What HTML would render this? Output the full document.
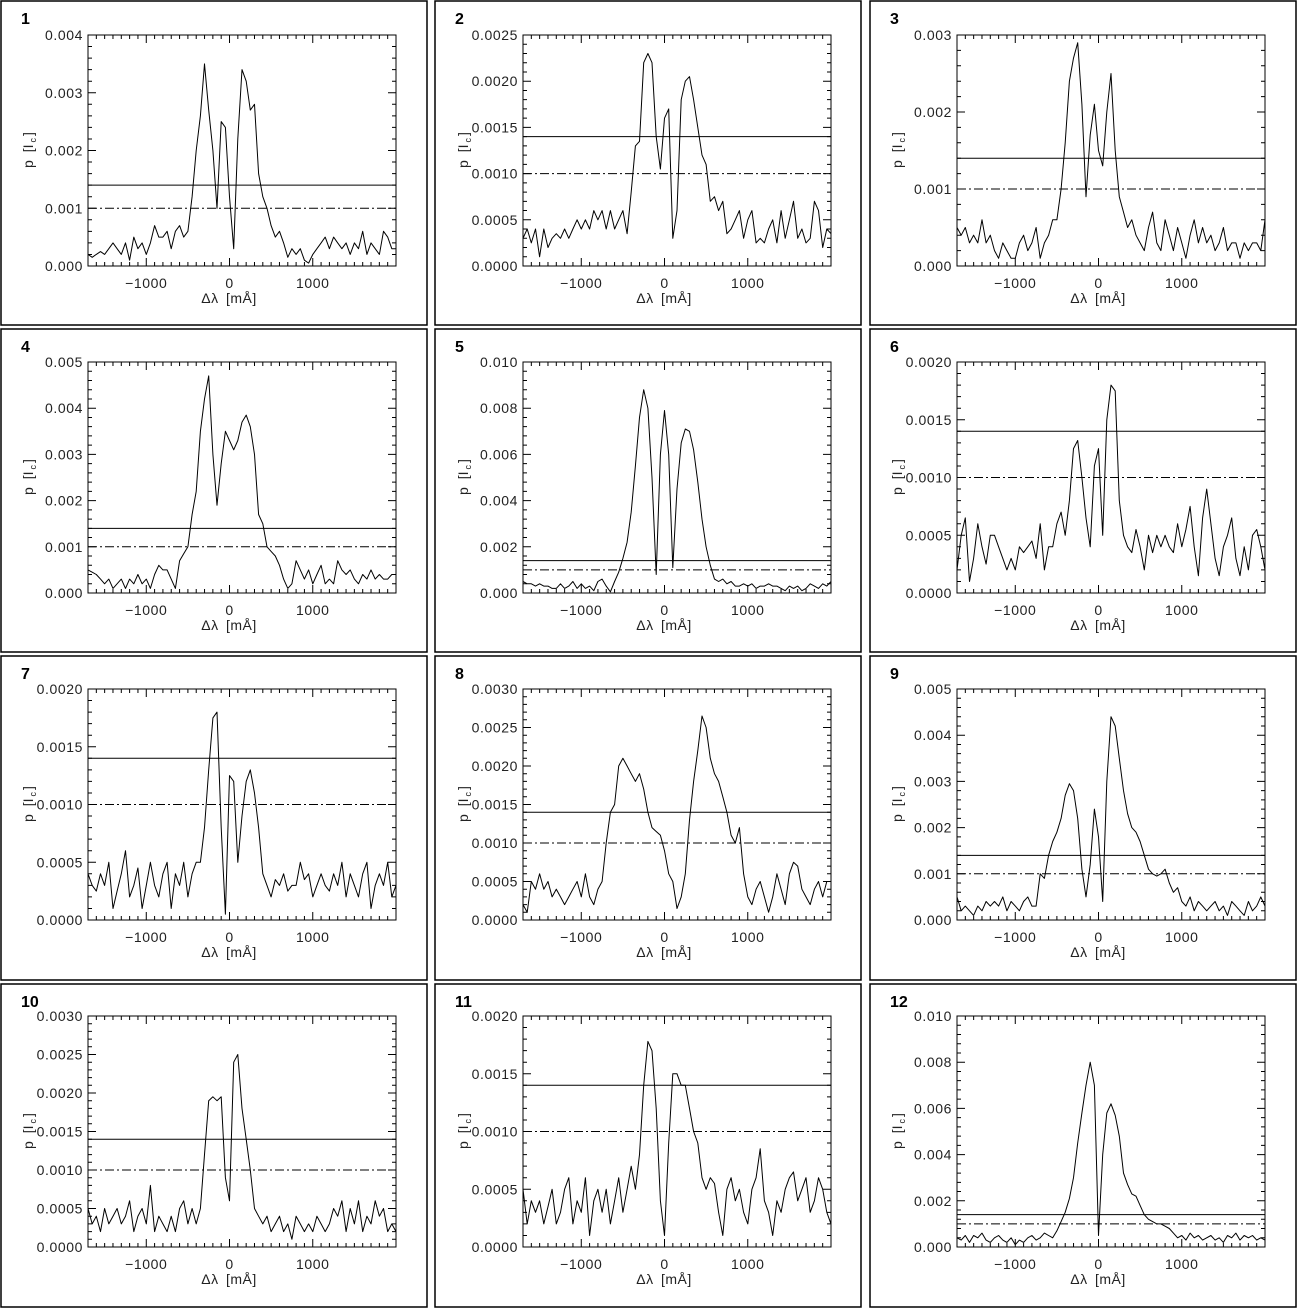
<!DOCTYPE html>
<html><head><meta charset="utf-8"><style>
html,body{margin:0;padding:0;background:#fff;}
svg{display:block;font-family:"Liberation Sans",Arial,sans-serif;}
</style></head><body>
<svg id="fig" width="1298" height="1309" viewBox="0 0 1298 1309" xmlns="http://www.w3.org/2000/svg"></svg>
<script>
// x sampling: -1700 .. 2000 mÅ step 50; values in units of 1e-4 I_c
const XSTART = -1700, XSTEP = 50, XMIN = -1700, XMAX = 2000;
const VALUE_UNIT = 1e-4;
const p1 = [2,1.5,2,2.5,2,3,4,3,2,4, 1,5,3,4,2,4,7,5,5,6, 3,6,7,5,6,12,20,26,35,27, 20,10,25,24,12,3,22,34,32,27, 28,16,12,10,7,5,6,4,1.5,3, 2,3,1,0.5,2,3,4,5,3,5, 4,3,4,2,4,3,6,2,4,3, 2,6,5,3,3];
const p2 = [3,4,2.5,4,1,4,2,3,3.5,3, 4,3,4,5,4,5,4,6,5,6, 4,6,4,5,6,3.5,8,13,13.5,22, 23,22,14,10.5,16,17,3,6,18,20, 20.5,18,15,12,11,7,7.5,6,7,3.5, 4,5,6,3,5,6,2.5,3,2.5,4, 5,2.5,6,3,5,7,3,4,2.5,3, 7,6,2,4,3.5];
const p3 = [5,4,5,3,4,3,6,3,4,2, 1,3,2,1,1,3,4,2,3,5, 1,3,4,6,6,10,16,24,27,29, 21,9,17,21,15,13,20,25,15,9, 7,5,6,4,3,2,5,7,3,2, 6,4,2,5,3,1,4,6,3,5, 3,4,2,3,5,2,3,3,1,3, 2,3,3,2,6];
const p4 = [5,4.5,4,3,2,3,1,2,3,1, 3,2,4,2,3,1,4,6,5,5, 3,1,7,8.5,10,17,22,35,42,47, 30,19,28,35,33,31,33,37,38.5,36, 30,17,15,10,9,8,6,3,1,2, 7,5,3,5,2,4,6,2,3,2, 7,5,4,5,3,2,4,3,5,3, 4,3,3,4,4];
const p5 = [5,4,4,3,4,3,3,2,2,4, 2,3,5,2,4,2,3,1,5,6, 3,0.5,5,9,15,22,35,55,76,88, 80,50,8,60,79,60,11,45,65,71, 70,62,48,32,20,12,6,5,6,4, 5,3,3,4,3,4,2,3,3,4, 3,3,2,1,3,2,3,1,2,4, 3,2,4,3,5];
const p6 = [2,5,6.5,1,3,6,4,2.5,5,5, 4,3,2,3,2,4,3.5,4,4.5,3, 6,2,4,4,6,7,5,8,12.5,13.2, 10,6.5,4,11,12.5,5,15,18,17.5,8, 5,4,3.5,5.5,4,2,5,3.5,5,4, 5,4,3.5,6,4,5.5,7.5,4,1.5,6.5, 9,6,3,1.5,4,5,6.5,3,1.5,4, 2,5,5.5,4,2];
const p7 = [4,3,2.5,4,3,5,1,2.5,4,6, 2,3,4.5,1,3,5,3,2,4,5, 1,4,3,5,2,4,5,5,8,13, 17.5,18,8,0.5,12.5,12,5,9,12,13, 11,8,4,3,2,3.5,3,4,2.5,3, 3,5,3.5,4,2,3,4,3,2.5,4, 3,5,2,4,3,2,4,5,1,3, 4,3,5,2,3];
const p8 = [2,1,5,4,6,4,5,3,4,3, 2,3,4,5,3,6,3,2,4,5, 10,14,15,20,21,20,19,18,19,17, 14,12,11.5,11,9,6,5,1.5,3,6, 13,18,22,26.5,25,21,19,18,16,14, 11,10,12,6,3,2,4,5,3,1, 3,6,4,2,6,7.5,7,4,3,2, 4,5,3,5,5];
const p9 = [5,2,3,2,1,3,2,4,3,4, 3,5,2,4,3,2,4,5,3,3, 10,9,14,17,19,22,27,29.5,28,22, 11,5,12,24,18,4,30,44,42,35, 28,23,20,19,17,14,11,10,9.5,10, 11,8,6,7,4,3,5,2,4,3, 2,3,4,2,3,1,4,3,2,1, 4,2,3,5,3];
const p10 = [5,3,4,2,5,3,4,5,3,4, 6,2,4,5,3,8,2,4,3,2, 4,2,5,6,3,5,3,5,12,19, 19.5,19,19.5,9,6,24,25,18,14,10, 5,4,3,4,2,3,4,2,3,1, 4,3,2,3,2,4,3,2,3,5, 4,6,2,5,3,6,2,4,3,6, 4,5,2,3,2];
const p11 = [5,2,4,3,4,2,3.5,5,2,3, 5,6,2,4,3,6,1,4,5,3, 5,2,4,6,3,5,7,5,8,14, 17.8,17,12,4,1,9,15,15,14,14, 12,10,9,6,5,6,5.5,3,1,5, 6,4,5,3,2,5,6,8.5,4,3, 1,4,3,5,6,6.5,4,5,6,3, 4,6,5,3,2];
const p12 = [4,3,5,2,5,4,6,3,2,4, 5,3,2,4,1,3,2,4,5,3, 4,6,5,4,7,11,15,21,30,45, 58,70,80,70,5,40,58,62,57,48, 32,27,23,22,18,14,12,11,10,10, 9,8,6,4,5,3,6,4,5,3, 4,5,3,4,2,5,4,6,3,5, 4,5,3,4,3];
const series = [p1,p2,p3,p4,p5,p6,p7,p8,p9,p10,p11,p12];
const yMaxes = [0.004,0.0025,0.003,0.005,0.010,0.002,0.002,0.003,0.005,0.003,0.002,0.010];
const yMajorSteps = [0.001,0.0005,0.001,0.001,0.002,0.0005,0.0005,0.0005,0.001,0.0005,0.0005,0.002];
const yDecimals = [3,4,3,3,3,4,4,4,3,4,4,3];
const xTickValues = [-1000,0,1000];
const xTickLabels = ["\u22121000","0","1000"];
const panelNumbers = ["1","2","3","4","5","6","7","8","9","10","11","12"];
const solidLevel = 0.0014, dashLevel = 0.001;

const NS = "http://www.w3.org/2000/svg";
const svg = document.getElementById("fig");
const boxLeft = [1,435,870], boxRight = [427,861,1296];
const boxTop = [1,329,656,984], boxBottom = [325,652,980,1307];
const plotLeft = [88,523,957], plotW = 308;
const plotTop = [35,362,689,1016], plotH = 231;

function mk(tag, attrs, parent){
  const e = document.createElementNS(NS, tag);
  for (const k in attrs) e.setAttribute(k, attrs[k]);
  (parent||svg).appendChild(e);
  return e;
}

for (let k=0;k<12;k++){
  const col=k%3, row=Math.floor(k/3);
  const g = mk("g",{});
  
  
  const box = mk("rect",{x:boxLeft[col],y:boxTop[row],width:boxRight[col]-boxLeft[col],height:boxBottom[row]-boxTop[row],fill:"none",stroke:"#000","stroke-width":1.5},g);
  
  
  const L=plotLeft[col], T=plotTop[row], R=L+plotW, B=T+plotH;
  const ymax=yMaxes[k];
  const xs = v => L + (v-XMIN)/(XMAX-XMIN)*plotW;
  const ys = v => B - Math.max(0,Math.min(v,ymax))/ymax*plotH;

  const num = mk("text",{x:boxLeft[col]+20,y:boxTop[row]+23,"font-size":16,"font-weight":"bold"},g);
  num.textContent = panelNumbers[k];
  
  

  const frame = mk("rect",{x:L,y:T,width:plotW,height:plotH,fill:"none",stroke:"#000","stroke-width":1},g);
  
  

  let tp="";
  for (let v=-1600; v<=XMAX; v+=100){
    const x=xs(v); const major = v%1000===0; const len = major?8:4;
    tp += `M${x},${B}v${-len}M${x},${T}v${len}`;
  }
  const ystep=yMajorSteps[k], ym=ystep/5;
  for (let i=0;i*ym<=ymax+1e-12;i++){
    const y=ys(i*ym); const len = (i%5===0)?8:4;
    tp += `M${L},${y}h${len}M${R},${y}h${-len}`;
  }
  const ticks = mk("path",{d:tp,stroke:"#000","stroke-width":1,fill:"none"},g);
  
  

  xTickValues.forEach((v,i)=>{
    const t = mk("text",{x:xs(v),y:B+22,"font-size":14,"text-anchor":"middle",fill:"#222","letter-spacing":0.6},g);
    t.textContent = xTickLabels[i];
    
    
  });
  const nMaj = Math.round(ymax/ystep);
  for (let i=0;i<=nMaj;i++){
    const t = mk("text",{x:L-5,y:ys(i*ystep)+5,"font-size":14,"text-anchor":"end",fill:"#222","letter-spacing":0.6},g);
    t.textContent = (i*ystep).toFixed(yDecimals[k]);
    
    
  }
  const xt = mk("text",{x:L+141,y:B+37,"font-size":14,"text-anchor":"middle",fill:"#222","letter-spacing":0.5,"word-spacing":3},g);
  xt.textContent = "\u0394\u03bb [m\u00c5]";
  
  
  const cx=L-55, cy=T+115;
  const yt = mk("text",{x:cx,y:cy,"font-size":14,"text-anchor":"middle",fill:"#222","word-spacing":4,transform:`rotate(-90 ${cx} ${cy})`},g);
  yt.innerHTML = 'p [I<tspan font-size="9" dx="2" dy="3">c</tspan><tspan dx="2" dy="-3">]</tspan>';
  
  

  const sl = mk("line",{x1:L,x2:R,y1:ys(solidLevel),y2:ys(solidLevel),stroke:"#000","stroke-width":1},g);
  
  
  const dl = mk("line",{x1:L,x2:R,y1:ys(dashLevel),y2:ys(dashLevel),stroke:"#000","stroke-width":1,"stroke-dasharray":"9,3,2,3"},g);
  
  

  const data=series[k];
  let d="";
  data.forEach((v,i)=>{
    const xv = XSTART + i*XSTEP;
    if (xv>XMAX) return;
    d += (i?"L":"M")+xs(xv).toFixed(1)+","+ys(v*VALUE_UNIT).toFixed(1);
  });
  const line = mk("path",{d:d,fill:"none",stroke:"#000","stroke-width":1,"stroke-linejoin":"round"},g);
  
  
}
</script>
</body></html>
